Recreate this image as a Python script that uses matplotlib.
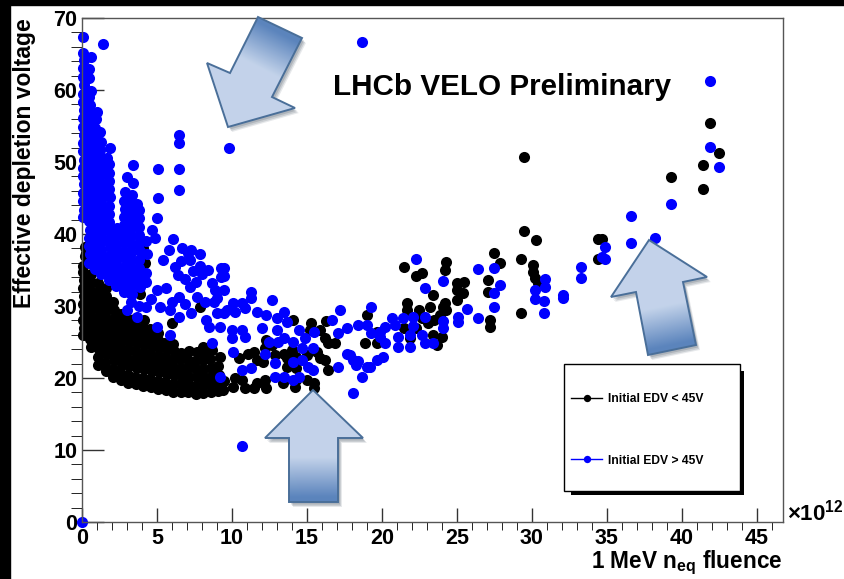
import numpy as np
import matplotlib
matplotlib.use("Agg")
import matplotlib.pyplot as plt
from matplotlib.patches import Polygon, Rectangle
from matplotlib.ticker import MultipleLocator

plt.rcParams['font.family'] = ['Liberation Sans', 'DejaVu Sans']
plt.rcParams['font.weight'] = 'bold'
plt.rcParams['mathtext.fontset'] = 'custom'
plt.rcParams['mathtext.rm'] = 'Liberation Sans:bold'
plt.rcParams['mathtext.bf'] = 'Liberation Sans:bold'
plt.rcParams['mathtext.it'] = 'Liberation Sans:bold'

W, H = 844, 579

# ---- data: fluence (x 1e12) vs effective depletion voltage ----
# sensors with initial EDV < 45 V (black)
black_dense = [
    (0.10, 26.0), (0.15, 27.0), (0.05, 28.1), (0.12, 29.2), (0.08, 30.3), (0.15, 31.4),
    (0.06, 32.5), (0.12, 33.6), (0.10, 34.7), (0.05, 35.5), (0.20, 36.9), (0.22, 38.2),
    (0.30, 37.3), (0.30, 43.5), (0.30, 58.9),
    (0.60, 24.3), (0.55, 25.4), (0.65, 26.5), (0.60, 27.6), (0.55, 28.8), (0.65, 29.9),
    (0.60, 31.0), (0.55, 32.2), (0.62, 33.3), (0.58, 34.5),
    (1.10, 21.8), (1.05, 22.9), (1.15, 24.0), (1.10, 25.1), (1.05, 26.2), (1.15, 27.3),
    (1.10, 28.4), (1.05, 29.6), (1.12, 30.7), (1.08, 31.9), (1.10, 33.2),
    (1.60, 21.0), (1.55, 22.1), (1.65, 23.3), (1.60, 24.4), (1.55, 25.6), (1.65, 26.7),
    (1.60, 27.9), (1.55, 29.0), (1.62, 30.2), (1.58, 31.4), (1.60, 32.5),
    (2.10, 20.2), (2.05, 21.3), (2.15, 22.5), (2.10, 23.6), (2.05, 24.8), (2.15, 25.9),
    (2.10, 27.1), (2.05, 28.2), (2.12, 29.4), (2.08, 30.6), (2.10, 39.6),
    (2.60, 19.7), (2.55, 20.8), (2.65, 22.0), (2.60, 23.1), (2.55, 24.3), (2.65, 25.4),
    (2.60, 26.6), (2.55, 27.7), (2.62, 28.9),
    (3.10, 19.3), (3.05, 20.4), (3.15, 21.6), (3.10, 22.7), (3.05, 23.9), (3.15, 25.0),
    (3.10, 26.2), (3.05, 27.3), (3.10, 28.2),
    (3.60, 19.1), (3.55, 20.2), (3.65, 21.4), (3.60, 22.6), (3.55, 23.7), (3.65, 24.9),
    (3.60, 26.0), (3.55, 27.2), (3.62, 28.3),
    (4.10, 18.9), (4.05, 20.0), (4.15, 21.2), (4.10, 22.3), (4.05, 23.5), (4.15, 24.6),
    (4.10, 25.8), (4.05, 26.9), (4.12, 28.0), (3.90, 31.6), (4.20, 36.0), (4.10, 38.0),
    (4.60, 18.7), (4.55, 19.8), (4.65, 21.0), (4.60, 22.1), (4.55, 23.3), (4.65, 24.5),
    (4.60, 25.6), (4.55, 26.8),
    (5.10, 18.5), (5.05, 19.6), (5.15, 20.8), (5.10, 21.9), (5.05, 23.1), (5.15, 24.2),
    (5.10, 25.3), (5.05, 26.2),
    (5.60, 18.3), (5.55, 19.4), (5.65, 20.6), (5.60, 21.7), (5.55, 22.9), (5.65, 24.0),
    (5.50, 24.9),
    (6.10, 18.1), (6.05, 19.2), (6.15, 20.4), (6.10, 21.5), (6.05, 22.7), (6.15, 23.8),
    (6.10, 24.7), (6.00, 27.6),
    (6.60, 18.0), (6.55, 19.1), (6.65, 20.3), (6.60, 21.4), (6.55, 22.6), (6.60, 23.5),
    (7.10, 18.0), (7.05, 19.1), (7.15, 20.2), (7.10, 21.4), (7.05, 22.5), (7.15, 23.7),
    (7.60, 17.8), (7.55, 18.9), (7.65, 20.1), (7.60, 21.2), (7.55, 22.4), (7.65, 23.6),
    (7.90, 29.9),
    (8.10, 17.9), (8.05, 19.0), (8.15, 20.2), (8.10, 21.3), (8.05, 22.5), (8.15, 23.7),
    (8.10, 24.3),
    (8.60, 18.0), (8.55, 19.1), (8.65, 20.3), (8.60, 21.4), (8.55, 22.6), (8.65, 23.9),
    (9.10, 18.2), (9.05, 19.3), (9.15, 20.4), (9.10, 21.6), (9.20, 22.9),
    (9.40, 18.4), (9.45, 19.6),
]
black_mid = [
    (10.1, 18.8), (10.2, 20.0), (10.5, 22.8), (10.7, 19.7), (10.9, 18.6), (11.1, 23.4),
    (11.5, 18.6), (11.7, 19.3), (11.7, 22.5), (11.5, 23.6), (12.1, 22.2), (12.2, 19.7),
    (12.2, 24.2), (12.3, 18.6), (12.3, 25.3), (12.7, 24.6), (12.9, 23.2), (13.4, 19.3),
    (13.5, 23.4), (13.7, 21.5), (13.7, 22.8), (14.0, 23.9), (14.1, 28.1), (14.2, 18.8),
    (14.3, 22.9), (14.3, 21.4), (14.3, 19.7), (15.0, 19.7), (15.0, 23.2), (15.3, 27.6),
    (15.2, 26.7), (15.5, 19.3), (15.5, 18.6), (15.7, 23.6), (15.9, 26.7), (15.9, 22.8),
    (16.2, 25.6), (16.2, 22.5), (16.3, 27.9), (16.4, 24.9), (16.4, 21.1), (16.9, 24.9),
    (18.9, 24.9), (19.0, 28.7), (19.7, 26.4), (19.7, 24.9),
    (21.5, 35.4), (22.3, 34.2), (22.7, 34.6), (24.3, 36.1), (24.2, 35.0), (25.0, 33.2),
    (25.5, 33.3), (25.0, 32.2), (25.4, 31.8), (25.0, 30.8), (23.4, 31.5), (24.2, 30.4),
    (21.7, 30.4), (21.7, 29.4), (22.5, 29.4), (23.2, 29.9), (24.1, 29.9), (24.3, 29.4),
    (23.9, 28.7), (22.7, 28.3), (23.5, 28.1), (21.5, 26.9), (22.3, 26.9), (23.1, 27.6),
    (23.4, 26.0), (24.0, 25.7), (23.7, 24.6), (21.9, 25.6),
    (27.1, 33.6), (27.1, 32.0), (27.2, 28.1), (27.2, 27.1), (27.5, 37.4), (27.9, 36.0),
    (29.3, 36.5), (29.3, 29.0), (29.5, 40.4), (30.3, 39.2), (30.1, 35.7), (30.1, 34.7),
    (30.2, 33.9), (30.4, 33.2),
]
black_high = [
    (29.5, 50.7), (34.4, 39.3), (34.7, 39.3), (34.4, 36.5), (39.3, 47.9),
    (41.4, 49.6), (41.4, 46.2), (41.9, 55.4), (42.5, 51.2),
]

# sensors with initial EDV > 45 V (blue)
blue_dense = [
    (0.10, 42.3), (0.12, 43.4), (0.08, 44.6), (0.10, 45.7), (0.14, 46.9), (0.08, 48.0),
    (0.10, 49.2), (0.12, 50.3), (0.08, 51.5), (0.10, 52.6), (0.14, 53.8), (0.08, 54.9),
    (0.10, 56.1), (0.12, 57.2), (0.08, 58.4), (0.10, 59.5), (0.14, 60.7), (0.08, 61.8),
    (0.10, 63.0), (0.12, 64.1), (0.10, 65.1),
    (0.50, 36.0), (0.52, 37.2), (0.48, 38.3), (0.50, 39.5), (0.55, 40.6), (0.48, 41.8),
    (0.50, 42.9), (0.52, 44.1), (0.48, 45.2), (0.50, 46.4), (0.55, 47.5), (0.48, 48.7),
    (0.50, 49.8), (0.52, 51.0), (0.48, 52.1), (0.50, 53.3), (0.55, 54.4), (0.48, 55.6),
    (0.50, 56.7), (0.52, 57.9), (0.48, 59.0), (0.60, 59.9), (0.45, 61.6), (0.45, 62.9),
    (0.60, 64.6),
    (0.90, 35.2), (0.92, 36.3), (0.88, 37.5), (0.90, 38.6), (0.95, 39.8), (0.88, 40.9),
    (0.90, 42.1), (0.92, 43.2), (0.88, 44.4), (0.90, 45.5), (0.95, 46.7), (0.88, 47.8),
    (0.90, 49.0), (0.92, 50.1), (0.88, 51.3), (0.90, 52.4), (0.95, 53.6), (0.88, 54.7),
    (0.95, 56.0), (1.00, 56.9),
    (1.30, 34.4), (1.32, 35.5), (1.28, 36.7), (1.30, 37.8), (1.35, 39.0), (1.28, 40.1),
    (1.30, 41.3), (1.32, 42.4), (1.28, 43.6), (1.30, 44.7), (1.35, 45.9), (1.28, 47.0),
    (1.30, 48.2), (1.32, 49.3), (1.28, 50.5), (1.20, 51.7), (1.25, 52.8), (1.20, 54.2),
    (1.80, 33.6), (1.82, 34.7), (1.78, 35.9), (1.80, 37.0), (1.85, 38.2), (1.78, 39.3),
    (1.80, 40.5), (1.82, 41.6), (1.78, 42.8), (1.80, 43.9), (1.85, 45.1), (1.78, 46.2),
    (1.80, 47.4), (1.82, 48.5), (1.78, 49.7), (1.70, 50.5), (1.90, 52.0),
    (2.30, 32.8), (2.32, 33.9), (2.28, 35.1), (2.30, 36.2), (2.35, 37.4), (2.28, 38.5),
    (2.30, 39.7), (2.32, 40.8),
    (2.80, 32.0), (2.82, 33.1), (2.78, 34.3), (2.80, 35.4), (2.85, 36.6), (2.78, 37.7),
    (2.80, 38.9), (2.82, 40.0), (2.78, 41.2), (2.80, 42.3), (2.85, 43.5), (2.78, 44.6),
    (2.90, 45.9), (3.00, 47.9),
    (3.30, 30.5), (3.32, 31.6), (3.28, 32.8), (3.30, 33.9), (3.35, 35.1), (3.28, 36.2),
    (3.30, 37.4), (3.32, 38.5), (3.28, 39.7), (3.30, 40.8), (3.35, 42.0), (3.28, 43.1),
    (3.30, 44.3), (3.35, 45.4), (3.40, 47.1), (3.40, 49.6),
    (3.80, 30.0), (3.80, 33.0), (3.82, 34.1), (3.78, 35.3), (3.80, 36.4), (3.85, 37.6),
    (3.78, 38.7), (3.80, 39.9), (3.82, 41.0), (3.78, 42.2), (3.80, 43.3), (3.70, 44.2),
    (4.30, 33.4), (4.30, 34.6), (4.35, 37.2), (4.30, 39.0),
]
blue_mid = [
    (5.1, 49.0), (5.1, 45.0), (5.0, 42.2), (6.5, 53.8), (6.5, 52.7), (6.5, 49.0),
    (6.5, 46.1), (9.8, 52.0), (1.4, 66.4), (0.05, 67.4), (18.7, 66.7),
    (4.7, 40.6), (4.9, 39.4), (6.1, 39.3), (6.7, 38.0), (7.1, 37.4), (7.3, 37.8),
    (5.4, 36.4), (6.4, 34.3), (7.2, 36.4), (6.2, 35.4), (8.0, 34.5), (8.7, 33.2),
    (7.9, 35.6), (6.9, 33.8), (7.6, 33.3), (9.3, 35.3), (9.3, 34.0), (9.5, 32.2),
    (9.0, 31.1), (9.7, 29.4), (5.0, 32.2), (5.6, 32.5), (6.5, 31.3), (7.2, 32.6),
    (7.7, 31.3), (5.2, 29.9), (5.9, 29.4), (6.5, 28.5), (7.3, 29.0), (8.3, 28.0),
    (9.0, 29.0), (8.5, 27.1), (9.2, 27.1), (8.7, 24.9), (5.0, 27.1), (5.9, 26.0),
    (3.2, 31.8), (3.9, 32.6), (3.0, 29.4), (3.7, 28.5), (4.3, 29.9), (4.6, 31.0),
    (8.2, 30.5), (8.8, 30.6), (9.2, 20.1), (10.7, 10.6), (0.0, 0.0),
    (7.9, 37.2), (8.4, 35.0), (6.6, 36.3), (5.8, 37.8), (8.9, 32.2), (7.4, 34.8),
    (6.0, 30.6), (6.9, 30.3),
    (9.5, 35.3), (9.5, 34.1), (11.3, 32.0), (11.3, 31.1), (12.7, 30.8), (10.1, 30.4),
    (10.7, 30.4), (9.5, 29.0), (10.2, 29.2), (10.9, 29.7), (11.7, 29.2), (12.3, 28.7),
    (13.0, 28.3), (13.5, 29.2), (13.7, 27.8), (17.2, 29.4), (19.3, 29.9), (10.0, 26.7),
    (10.7, 26.7), (10.9, 25.7), (10.0, 25.6), (12.0, 26.9), (13.0, 26.7), (12.5, 25.0),
    (13.1, 25.0), (13.5, 25.6), (14.1, 25.0), (14.5, 26.7), (14.9, 25.6), (15.5, 26.4),
    (16.7, 28.1), (17.1, 26.3), (17.7, 26.9), (18.4, 27.4), (19.0, 27.4), (19.3, 26.3),
    (10.1, 23.6), (10.7, 21.1), (11.3, 21.4), (12.2, 23.4), (12.9, 22.1), (14.1, 22.2),
    (14.7, 22.5), (14.7, 24.2), (15.4, 24.2), (15.1, 21.5), (15.4, 21.1), (17.1, 21.5),
    (17.7, 23.4), (18.1, 22.5), (18.3, 21.8), (19.0, 21.5), (18.7, 20.1), (18.1, 17.9),
    (12.9, 20.1), (13.5, 20.1), (14.1, 19.7), (14.5, 20.1), (17.9, 23.2), (18.4, 22.3),
    (22.3, 36.5), (24.1, 33.5), (22.9, 32.5), (26.4, 35.1), (27.5, 35.3), (27.9, 32.9),
    (27.5, 31.8), (25.7, 29.6), (26.4, 28.3), (27.5, 29.9), (25.1, 28.5), (25.1, 27.8),
    (24.1, 27.9), (24.1, 26.9), (22.9, 28.5), (22.1, 28.5), (21.4, 28.3), (20.7, 28.3),
    (20.9, 27.4), (20.2, 27.1), (19.9, 26.4), (19.9, 25.7), (20.2, 24.9), (21.1, 25.7),
    (21.9, 26.0), (22.7, 26.0), (22.9, 24.9), (23.4, 24.9), (21.1, 24.3), (21.9, 24.3),
    (20.1, 22.9), (19.7, 22.5), (19.2, 21.5), (22.1, 27.2),
]
blue_high = [
    (30.2, 32.2), (30.2, 31.0), (30.8, 30.7), (30.8, 29.0), (30.9, 33.7), (30.9, 32.6),
    (32.1, 31.5), (32.1, 31.1), (33.3, 35.4), (33.3, 33.9), (34.7, 36.8), (34.9, 36.5),
    (34.9, 38.2), (36.6, 38.8), (36.6, 42.5), (38.2, 39.4), (39.3, 44.2),
    (41.9, 52.1), (42.5, 49.3), (41.9, 61.2),
]

black_x, black_y = zip(*(black_dense + black_mid + black_high))
blue_x, blue_y = zip(*(blue_dense + blue_mid + blue_high))

labels = ['Initial EDV < 45V', 'Initial EDV > 45V']

fig = plt.figure(figsize=(W / 100, H / 100), dpi=100)
fig.patch.set_facecolor('white')
# black bands of the original screenshot
fig.patches.append(Rectangle((0, 0), 10 / W, 1, transform=fig.transFigure, color='black', zorder=0))
fig.patches.append(Rectangle((0, 1 - 5 / H), 1, 5 / H, transform=fig.transFigure, color='black', zorder=0))

# bottom layer in pixel coordinates: legend box and its shadow
bg = fig.add_axes([0, 0, 1, 1], zorder=1)
bg.set_xlim(0, W)
bg.set_ylim(H, 0)
bg.axis('off')
bg.add_patch(Rectangle((571, 371), 173, 124, facecolor='black', edgecolor='none'))
bg.add_patch(Rectangle((564, 364), 176, 127, facecolor='white', edgecolor='black', lw=1))

ax = fig.add_axes([82 / W, (H - 522) / H, 701 / W, 504 / H], zorder=2)
ax.patch.set_alpha(0)
ln_black, = ax.plot(black_x, black_y, 'o', color='black', ms=8, mew=0, clip_on=False,
                    label=labels[0])
ln_blue, = ax.plot(blue_x, blue_y, 'o', color='#0000ff', ms=8, mew=0, clip_on=False,
                   label=labels[1])

ax.set_xlim(0, 46.75)
ax.set_ylim(0, 70)
ax.xaxis.set_major_locator(MultipleLocator(5))
ax.xaxis.set_minor_locator(MultipleLocator(1))
ax.yaxis.set_major_locator(MultipleLocator(10))
ax.yaxis.set_minor_locator(MultipleLocator(2))
ax.tick_params(direction='in', colors='#333333', labelcolor='black', labelsize=15.5, width=1)
ax.tick_params(axis='y', which='major', length=15.5, pad=3.5)
ax.tick_params(axis='y', which='minor', length=8)
ax.tick_params(axis='x', which='major', length=10, pad=4.5)
ax.tick_params(axis='x', which='minor', length=5.5)
for s in ax.spines.values():
    s.set_color('#555555')
    s.set_linewidth(1)

ax.set_ylabel('Effective depletion voltage', fontsize=16.5, fontweight='bold', loc='top')
ax.yaxis.set_label_coords(-0.066, 1.0)
ax.set_xlabel(r'1 MeV n$_{\mathbf{eq}}$ fluence', fontsize=16.3, fontweight='bold', loc='right')
ax.xaxis.set_label_coords(1.0, -0.052)

fig.text(787 / W, 1 - 520 / H, r'$\times$10$^{12}$', fontsize=16, fontweight='bold')
fig.text(333 / W, 1 - 95 / H, 'LHCb VELO Preliminary', fontsize=21.3, fontweight='bold')

leg = ax.legend(handles=[ln_black, ln_blue], loc='upper left',
                bbox_to_anchor=(571 / W, 1 - 393 / H), bbox_transform=fig.transFigure,
                borderaxespad=0, borderpad=0, frameon=False,
                prop=dict(size=8.7, weight='bold'), markerscale=0.66,
                handlelength=2.6, handletextpad=0.5, labelspacing=4.1)
for h in leg.legend_handles:
    h.set_linestyle('-')
    h.set_linewidth(1)

# overlay in pixel coordinates for the decorative arrows
ov = fig.add_axes([0, 0, 1, 1], zorder=5)
ov.set_xlim(0, W)
ov.set_ylim(H, 0)
ov.axis('off')
ov.patch.set_alpha(0)

light = np.array([0.765, 0.827, 0.918])
dark = np.array([0.36, 0.52, 0.74])


def draw_arrow(pts, tail):
    pts = np.array(pts, float)
    tip = pts[0]
    tail = np.array(tail, float)
    for off, a in [((4, 5), 0.10), ((3, 4), 0.14), ((2, 2.5), 0.16)]:
        ov.add_patch(Polygon(pts + np.array(off), closed=True, facecolor='#1a2a40',
                             edgecolor='none', alpha=a, zorder=1))
    x0, y0 = pts.min(0) - 1
    x1, y1 = pts.max(0) + 1
    xs = np.arange(x0, x1, 0.5)
    ys = np.arange(y0, y1, 0.5)
    X, Y = np.meshgrid(xs, ys)
    d = tip - tail
    t = ((X - tail[0]) * d[0] + (Y - tail[1]) * d[1]) / (d @ d)
    w = np.clip((t - 0.05) / 0.35, 0, 1)[..., None]
    img = dark * (1 - w) + light * w
    im = ov.imshow(img, extent=(x0, x1, y1, y0), origin='upper', zorder=2,
                   interpolation='bilinear')
    clip = Polygon(pts, closed=True, transform=ov.transData, facecolor='none')
    ov.add_patch(clip)
    clip.set_visible(False)
    im.set_clip_path(clip)
    ov.add_patch(Polygon(pts, closed=True, facecolor='none', edgecolor='#4a6f99',
                         lw=1.4, zorder=3))


draw_arrow([(228, 127), (207, 63), (230, 73), (258, 17), (302, 38), (272, 97), (295, 108)],
           (280, 27))
draw_arrow([(313, 390), (363, 438), (338, 438), (338, 502), (289, 502), (289, 438), (265, 438)],
           (313.5, 502))
draw_arrow([(649, 240), (707, 277), (683, 282), (696, 345), (648, 355), (636, 292), (611, 297)],
           (672, 350))
ov.set_xlim(0, W)
ov.set_ylim(H, 0)

fig.savefig('out.png', dpi=100)
